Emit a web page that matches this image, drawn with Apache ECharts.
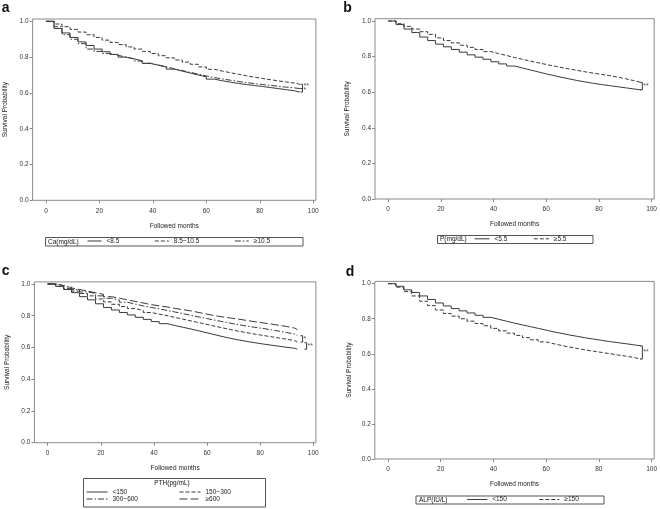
<!DOCTYPE html>
<html>
<head>
<meta charset="utf-8">
<script src="https://cdn.jsdelivr.net/npm/echarts@6/dist/echarts.min.js"></script>
<style>
  html, body { margin: 0; padding: 0; background: #fff; }
  #chart { width: 660px; height: 509px; }
</style>
</head>
<body>
<div id="chart"></div>
<script>
// follow-up months at which the step values are read (last value is carried to the end of follow-up)
const months = [0, 3, 6, 9, 12, 15, 18, 21, 24, 27, 30, 33, 36, 39, 42, 45, 48, 51, 54, 57, 60, 63, 66, 69, 72, 75, 78, 81, 84, 87, 90, 93];
const lastMonth = [95, 96, 94, 96];
const xTicks = [0, 20, 40, 60, 80, 100];
const yTicks = [0, 0.2, 0.4, 0.6, 0.8, 1.0];

// a: calcium
const caNames = ['<8.5', '8.5~10.5', '≥10.5'];
const caLow = [1, 0.96, 0.935, 0.91, 0.885, 0.865, 0.845, 0.83, 0.815, 0.80, 0.79, 0.78, 0.765, 0.755, 0.745, 0.733, 0.722, 0.711, 0.70, 0.69, 0.677, 0.668, 0.66, 0.653, 0.647, 0.641, 0.636, 0.63, 0.624, 0.618, 0.612, 0.605];
const caMid = [1, 0.985, 0.97, 0.955, 0.94, 0.925, 0.91, 0.895, 0.882, 0.87, 0.857, 0.845, 0.832, 0.82, 0.808, 0.796, 0.784, 0.772, 0.76, 0.745, 0.732, 0.722, 0.713, 0.704, 0.696, 0.688, 0.681, 0.674, 0.667, 0.661, 0.655, 0.648];
const caHigh = [1, 0.97, 0.925, 0.90, 0.875, 0.845, 0.832, 0.82, 0.81, 0.80, 0.79, 0.778, 0.766, 0.756, 0.746, 0.735, 0.725, 0.715, 0.705, 0.695, 0.686, 0.678, 0.671, 0.664, 0.658, 0.652, 0.647, 0.642, 0.637, 0.632, 0.628, 0.624];

// b: phosphorus
const pNames = ['<5.5', '≥5.5'];
const pLow = [1, 0.98, 0.955, 0.935, 0.91, 0.89, 0.87, 0.855, 0.84, 0.825, 0.81, 0.797, 0.785, 0.771, 0.759, 0.747, 0.736, 0.725, 0.714, 0.703, 0.693, 0.683, 0.674, 0.665, 0.657, 0.65, 0.643, 0.637, 0.631, 0.625, 0.619, 0.613];
const pHigh = [1, 0.985, 0.97, 0.955, 0.94, 0.925, 0.905, 0.89, 0.877, 0.864, 0.852, 0.84, 0.828, 0.817, 0.806, 0.795, 0.785, 0.775, 0.765, 0.756, 0.747, 0.738, 0.73, 0.722, 0.714, 0.707, 0.70, 0.693, 0.685, 0.676, 0.666, 0.655];

// c: PTH
const pthNames = ['<150', '150~300', '300~600', '≥600'];
const pth1 = [1, 0.985, 0.965, 0.945, 0.92, 0.9, 0.875, 0.852, 0.836, 0.82, 0.805, 0.79, 0.777, 0.763, 0.75, 0.738, 0.727, 0.716, 0.704, 0.692, 0.68, 0.668, 0.657, 0.647, 0.638, 0.63, 0.622, 0.615, 0.608, 0.601, 0.595, 0.589];
const pth2 = [1, 0.985, 0.97, 0.955, 0.94, 0.925, 0.905, 0.887, 0.872, 0.858, 0.845, 0.833, 0.82, 0.81, 0.8, 0.789, 0.778, 0.767, 0.756, 0.745, 0.734, 0.723, 0.712, 0.702, 0.693, 0.684, 0.676, 0.668, 0.66, 0.652, 0.643, 0.634];
const pth3 = [1, 0.99, 0.98, 0.965, 0.95, 0.94, 0.925, 0.91, 0.898, 0.885, 0.873, 0.862, 0.852, 0.843, 0.833, 0.823, 0.813, 0.802, 0.792, 0.782, 0.772, 0.762, 0.752, 0.743, 0.735, 0.727, 0.72, 0.712, 0.703, 0.694, 0.684, 0.674];
const pth4 = [1, 0.99, 0.975, 0.965, 0.955, 0.945, 0.935, 0.92, 0.91, 0.9, 0.89, 0.88, 0.87, 0.862, 0.855, 0.846, 0.838, 0.83, 0.82, 0.81, 0.8, 0.792, 0.785, 0.778, 0.77, 0.762, 0.755, 0.748, 0.74, 0.732, 0.722, 0.712];

// d: ALP
const alpNames = ['<150', '≥150'];
const alpLow = [1, 0.985, 0.965, 0.95, 0.93, 0.91, 0.89, 0.873, 0.858, 0.845, 0.833, 0.82, 0.808, 0.797, 0.786, 0.775, 0.765, 0.755, 0.745, 0.735, 0.725, 0.716, 0.707, 0.699, 0.691, 0.684, 0.677, 0.67, 0.664, 0.658, 0.652, 0.645];
const alpHigh = [1, 0.98, 0.955, 0.93, 0.9, 0.875, 0.85, 0.83, 0.815, 0.8, 0.786, 0.773, 0.76, 0.745, 0.731, 0.718, 0.705, 0.692, 0.68, 0.668, 0.657, 0.647, 0.638, 0.63, 0.622, 0.615, 0.608, 0.601, 0.594, 0.587, 0.58, 0.57];

// significance brackets: [panel, x, top, bottom, mark]
const brackets = [
  [0, 96, 0.648, 0.624, '**'],
  [0, 96, 0.624, 0.605, '*'],
  [1, 96.5, 0.655, 0.613, '**'],
  [2, 96, 0.674, 0.634, '*'],
  [2, 97.5, 0.63, 0.589, '**'],
  [3, 96.5, 0.645, 0.57, '**'],
];

const FONT = "'Liberation Sans', Arial, sans-serif";
const INK = '#3a3a3a';
const FRAME = '#8a8a8a';
const SOLID = 'solid', DASH = [4, 2], DASHDOT = [6, 2, 1.5, 2], LONGDASH = [8, 3];

// plot boxes (left, top, width, height)
const grids = [
  { left: 32.6, top: 19, width: 283.3, height: 181.3 },
  { left: 375, top: 18.7, width: 279.2, height: 180.3 },
  { left: 34.4, top: 281.9, width: 281.5, height: 160.8 },
  { left: 374.8, top: 281.4, width: 279.8, height: 177.6 },
];

function curve(vals, end) {
  const pts = months.map((m, i) => [m, vals[i]]);
  pts.push([end, vals[vals.length - 1]]);
  return pts;
}

function km(name, k, vals, type) {
  return {
    type: 'line', name, xAxisIndex: k, yAxisIndex: k,
    data: curve(vals, lastMonth[k]), step: 'end', symbol: 'none',
    lineStyle: { color: INK, width: 1, type },
    itemStyle: { color: INK },
    silent: true, animation: false,
  };
}

const series = [
  km(caNames[0], 0, caLow, SOLID),
  km(caNames[1], 0, caMid, DASH),
  km(caNames[2], 0, caHigh, DASHDOT),
  km(pNames[0], 1, pLow, SOLID),
  km(pNames[1], 1, pHigh, DASH),
  km(pthNames[0], 2, pth1, SOLID),
  km(pthNames[1], 2, pth2, DASH),
  km(pthNames[2], 2, pth3, DASHDOT),
  km(pthNames[3], 2, pth4, LONGDASH),
  km(alpNames[0], 3, alpLow, SOLID),
  km(alpNames[1], 3, alpHigh, DASH),
];

brackets.forEach(([k, x, a, b, mark]) => {
  series.push({
    type: 'line', xAxisIndex: k, yAxisIndex: k, symbol: 'none', silent: true, animation: false,
    data: [[x - 0.8, a], [x, a], [x, b], [x - 0.8, b]],
    lineStyle: { color: INK, width: 1 },
  });
  series.push({
    type: 'scatter', xAxisIndex: k, yAxisIndex: k, symbolSize: 0, silent: true, animation: false,
    data: [[x, (a + b) / 2]],
    label: { show: true, formatter: mark, position: 'right', distance: 1, fontSize: 7, color: '#222', fontFamily: FONT },
  });
});

const xAxes = grids.map((g, k) => ({
  type: 'value', gridIndex: k, min: -5, max: 101,
  name: 'Followed months', nameLocation: 'middle', nameGap: 22,
  nameTextStyle: { fontSize: 6.5, color: '#222', fontFamily: FONT },
  axisLine: { show: false, onZero: false },
  axisTick: { show: true, length: 3, customValues: xTicks, lineStyle: { color: FRAME } },
  axisLabel: { customValues: xTicks, margin: 7, fontSize: 6.5, color: '#333', fontFamily: FONT },
  splitLine: { show: false },
}));

const yAxes = grids.map((g, k) => ({
  type: 'value', gridIndex: k, min: 0, max: 1.013,
  name: 'Survival Probability', nameLocation: 'middle', nameGap: k === 3 ? 22 : 24,
  nameTextStyle: { fontSize: 6.5, color: '#222', fontFamily: FONT },
  axisLine: { show: false, onZero: false },
  axisTick: { show: true, length: 3, customValues: yTicks, lineStyle: { color: FRAME } },
  axisLabel: { customValues: yTicks, margin: 4, fontSize: 6.5, color: '#333', fontFamily: FONT,
    formatter: (v) => v.toFixed(1) },
  splitLine: { show: false },
}));

const legendBase = {
  padding: 0, itemHeight: 7, selectedMode: false,
  itemStyle: { opacity: 0 },
  lineStyle: { width: 1 },
  textStyle: { fontSize: 6.5, color: '#222', fontFamily: FONT },
};

const legends = [
  Object.assign({}, legendBase, { data: caNames, left: 87, top: 237.5, itemWidth: 14, itemGap: 35 }),
  Object.assign({}, legendBase, { data: pNames, left: 474, top: 235.3, itemWidth: 15, itemGap: 26 }),
  Object.assign({}, legendBase, { data: [pthNames[0], pthNames[2]], orient: 'vertical', left: 86, top: 488.5, itemWidth: 21, itemGap: 0 }),
  Object.assign({}, legendBase, { data: [pthNames[1], pthNames[3]], orient: 'vertical', left: 179, top: 488.5, itemWidth: 21, itemGap: 0 }),
  Object.assign({}, legendBase, { data: alpNames, left: 466.7, top: 496, itemWidth: 20, itemGap: 32 }),
];

function box(x, y, w, h) {
  return { type: 'rect', shape: { x, y, width: w, height: h }, style: { fill: 'none', stroke: '#555', lineWidth: 1 }, silent: true };
}
function txt(x, y, text, size, bold, align) {
  return {
    type: 'text', x, y, silent: true,
    style: { text, fontSize: size, fontWeight: bold ? 'bold' : 'normal', fill: '#111', fontFamily: FONT,
      align: align || 'left', verticalAlign: 'middle' },
  };
}

const graphic = [
  txt(1.7, 8, 'a', 14, true), txt(343.3, 7.8, 'b', 14, true),
  txt(1.7, 270.8, 'c', 14, true), txt(345.7, 271.8, 'd', 14, true),
  box(45.5, 237.5, 257.5, 8.5), txt(48, 241.8, 'Ca(mg/dL)', 6.5),
  box(437.5, 235.5, 155.5, 8), txt(440, 239.6, 'P(mg/dL)', 6.5),
  box(83.5, 478.5, 182, 28.5), txt(172, 483.5, 'PTH(pg/mL)', 6.5, false, 'center'),
  box(416, 496, 188, 8), txt(419, 500.1, 'ALP(IU/L)', 6.5),
];

const chart = echarts.init(document.getElementById('chart'), null, { renderer: 'canvas' });
chart.setOption({
  animation: false,
  backgroundColor: '#fff',
  grid: grids.map((g) => Object.assign({ show: true, borderColor: FRAME, borderWidth: 1, backgroundColor: 'transparent' }, g)),
  xAxis: xAxes,
  yAxis: yAxes,
  legend: legends,
  series,
  graphic,
});
</script>
</body>
</html>
